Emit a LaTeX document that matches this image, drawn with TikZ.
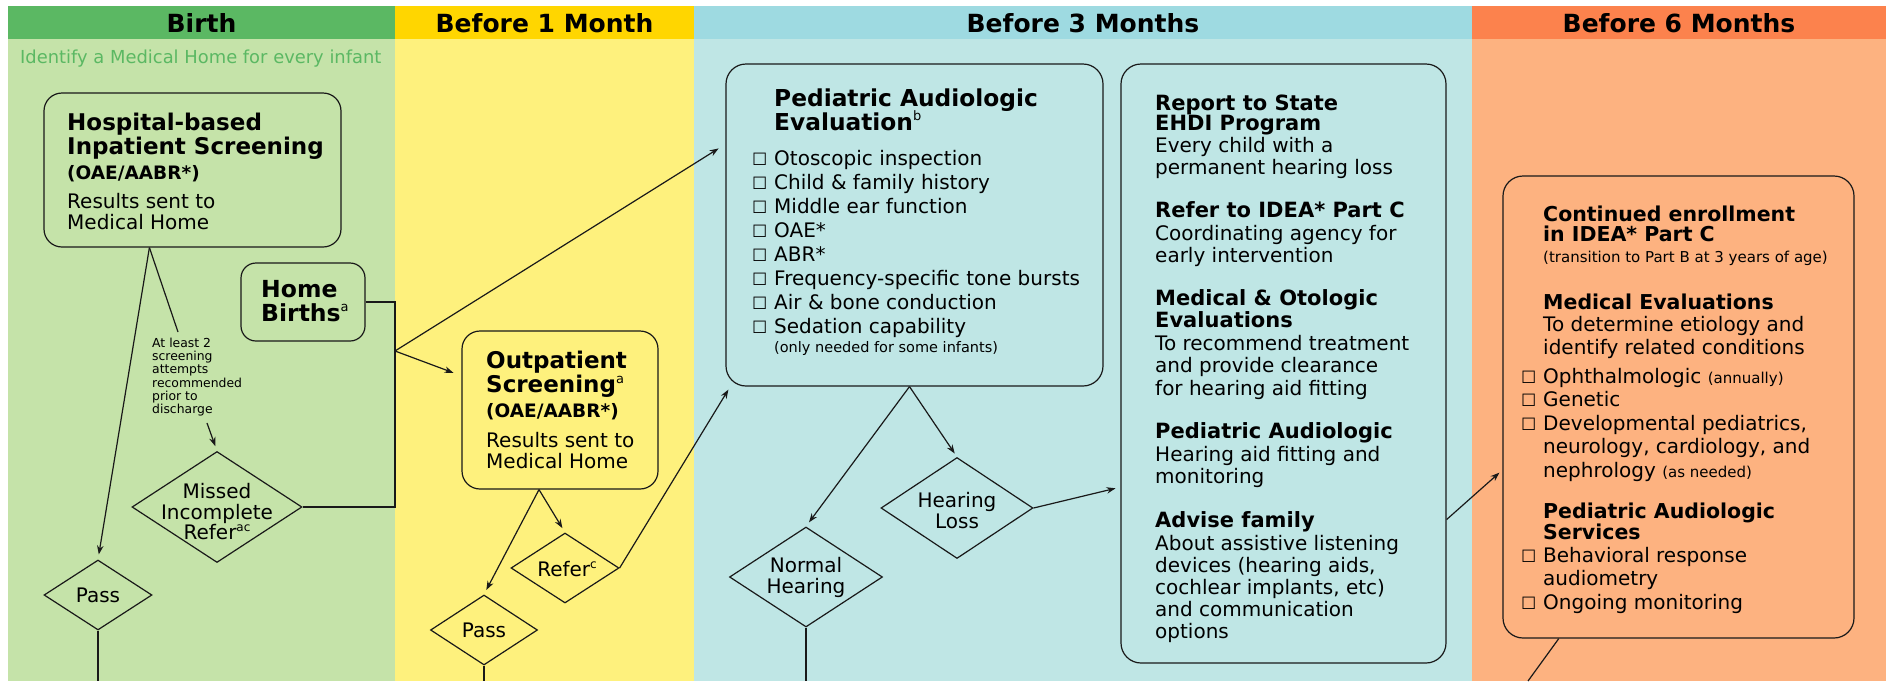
\documentclass[tikz,border=0pt]{standalone}
\usepackage{fontspec}
\setmainfont{DejaVu Sans}
\usetikzlibrary{shapes.geometric,arrows.meta,calc}
\definecolor{gH}{RGB}{91,184,99}
\definecolor{gB}{RGB}{197,227,169}
\definecolor{yH}{RGB}{255,214,0}
\definecolor{yB}{RGB}{254,241,125}
\definecolor{bH}{RGB}{158,218,225}
\definecolor{bB}{RGB}{191,230,229}
\definecolor{oH}{RGB}{252,130,77}
\definecolor{oB}{RGB}{253,178,128}
\definecolor{ink}{RGB}{25,25,25}
\lineskiplimit=-100pt
\newcommand\fsz[2]{\fontsize{#1pt}{#2pt}\selectfont}
\newcommand\st[1]{\rule{0pt}{#1pt}}
\newcommand\cb{\llap{\makebox[22pt][l]{\fontsize{17pt}{17pt}\selectfont ☐}}}
\newcommand\supr[2][13]{\raisebox{0.4em}{\mdseries\fontsize{#1pt}{#1pt}\selectfont #2}}
\tikzset{
  box/.style={draw=ink, line width=1.2pt, rectangle, rounded corners=18pt, inner sep=0pt},
  dia/.style={draw=ink, line width=1.2pt, diamond, inner sep=0pt},
  txt/.style={anchor=north west, inner sep=0pt, align=left, text=black},
  ctr/.style={inner sep=0pt, align=center, text=black},
  conn/.style={draw=ink, line width=1.2pt},
  arr/.style={conn, -{Stealth[length=9pt,width=6.5pt]}},
  hdr/.style={anchor=base, inner sep=0pt, font=\bfseries\fsz{25}{25}},
}
\begin{document}
\begin{tikzpicture}[x=1pt,y=-1pt]
\useasboundingbox (0,0) rectangle (1891,681);
\fill[white] (0,0) rectangle (1891,681);
% column backgrounds
\fill[gH] (8,6) rectangle (395,39);
\fill[gB] (8,39) rectangle (395,681);
\fill[yH] (395,6) rectangle (694,39);
\fill[yB] (395,39) rectangle (694,681);
\fill[bH] (694,6) rectangle (1472,39);
\fill[bB] (694,39) rectangle (1472,681);
\fill[oH] (1472,6) rectangle (1886,39);
\fill[oB] (1472,39) rectangle (1886,681);
% headers
\node[hdr] (h1) at (201.5,32) {Birth};
\node[hdr] (h2) at (544.5,32) {Before 1 Month};
\node[hdr] (h3) at (1083,32) {Before 3 Months};
\node[hdr] (h4) at (1679,32) {Before 6 Months};
\node[anchor=base west, inner sep=0pt, font=\fsz{17.9}{18}, text=gH] (ident) at (20,63) {Identify a Medical Home for every infant};

% Hospital box
\node[box, minimum width=297pt, minimum height=154pt] (hosp) at (192.5,170) {};
\node[txt, font=\bfseries\fsz{23}{24}] (hospT) at (67,107) {\st{23}Hospital-based\\Inpatient Screening};
\node[txt, font=\bfseries\fsz{18.5}{20}] (hospC) at (67,160.5) {\st{18.5}(OAE/AABR*)};
\node[txt, font=\fsz{20}{21.5}] (hospR) at (67,188) {\st{20}Results sent to\\Medical Home};

% Home births
\node[box, rounded corners=15pt, minimum width=124pt, minimum height=78pt] (home) at (303,302) {};
\node[txt, font=\bfseries\fsz{23.5}{24}] (homeT) at (261,273.5) {\st{23.5}Home\\Births\supr{a}};

% note
\node[txt, font=\fsz{12.4}{13.3}] (note) at (152,334.6) {\st{12.4}At least 2\\screening\\attempts\\recommended\\prior to\\discharge};

% diamonds birth
\node[dia, minimum width=170pt, minimum height=111pt] (miss) at (217,507) {};
\node[ctr, font=\fsz{20}{20.5}] (missT) at (217,512) {Missed\\Incomplete\\Refer\supr[12]{ac}};
\node[dia, minimum width=108pt, minimum height=70pt] (pass1) at (98,595) {};
\node[ctr, font=\fsz{20}{20}] (pass1T) at (98,595) {Pass};

% Outpatient
\node[box, minimum width=196pt, minimum height=158pt] (out) at (560,410) {};
\node[txt, font=\bfseries\fsz{23}{24}] (outT) at (486,345) {\st{23}Outpatient\\Screening\supr{a}};
\node[txt, font=\bfseries\fsz{18.5}{20}] (outC) at (486,398.5) {\st{18.5}(OAE/AABR*)};
\node[txt, font=\fsz{20}{21}] (outR) at (486,427) {\st{20}Results sent to\\Medical Home};
\node[dia, minimum width=108pt, minimum height=70pt] (refer) at (565,568) {};
\node[ctr, font=\fsz{20}{20}] (referT) at (567,569) {Refer\supr[12]{c}};
\node[dia, minimum width=107pt, minimum height=70pt] (pass2) at (484,630) {};
\node[ctr, font=\fsz{20}{20}] (pass2T) at (484,630) {Pass};

% PAE
\node[box, rounded corners=20pt, minimum width=377pt, minimum height=322pt] (pae) at (914.5,225) {};
\node[txt, font=\bfseries\fsz{23.3}{24}] (paeT) at (774,82.7) {\st{23.3}Pediatric Audiologic\\Evaluation\supr{b}};
\node[txt, font=\fsz{20}{24}] (paeL) at (774,145) {\st{20}\cb Otoscopic inspection\\\cb Child \& family history\\\cb Middle ear function\\\cb OAE*\\\cb ABR*\\\cb Frequency-specific tone bursts\\\cb Air \& bone conduction\\\cb Sedation capability};
\node[txt, font=\fsz{14.5}{15}] (paeS) at (774,337.5) {\st{14.5}(only needed for some infants)};
\node[dia, minimum width=152pt, minimum height=101pt] (loss) at (957,508) {};
\node[ctr, font=\fsz{20}{21}] (lossT) at (957,511) {Hearing\\Loss};
\node[dia, minimum width=153pt, minimum height=100pt] (normal) at (806,577) {};
\node[ctr, font=\fsz{20}{21}] (normalT) at (806,577) {Normal\\Hearing};

% right blue box
\node[box, rounded corners=20pt, minimum width=325pt, minimum height=599pt] (rb) at (1283.5,363.5) {};
\node[txt, font=\bfseries\fsz{21}{20}] (rbH1) at (1155,89) {\st{21}Report to State\\EHDI Program};
\node[txt, font=\fsz{20}{22}] (rbB1) at (1155,132) {\st{20}Every child with a\\permanent hearing loss};
\node[txt, font=\bfseries\fsz{21}{20}] (rbH2) at (1155,196) {\st{21}Refer to IDEA* Part C};
\node[txt, font=\fsz{20}{22}] (rbB2) at (1155,220) {\st{20}Coordinating agency for\\early intervention};
\node[txt, font=\bfseries\fsz{21}{22}] (rbH3) at (1155,284) {\st{21}Medical \& Otologic\\Evaluations};
\node[txt, font=\fsz{20}{22.5}] (rbB3) at (1155,330) {\st{20}To recommend treatment\\and provide clearance\\for hearing aid fitting};
\node[txt, font=\bfseries\fsz{21}{20}] (rbH4) at (1155,417) {\st{21}Pediatric Audiologic};
\node[txt, font=\fsz{20}{22}] (rbB4) at (1155,441) {\st{20}Hearing aid fitting and\\monitoring};
\node[txt, font=\bfseries\fsz{21}{20}] (rbH5) at (1155,506) {\st{21}Advise family};
\node[txt, font=\fsz{20}{22}] (rbB5) at (1155,530) {\st{20}About assistive listening\\devices (hearing aids,\\cochlear implants, etc)\\and communication\\options};

% orange box
\node[box, rounded corners=20pt, minimum width=351pt, minimum height=462pt] (ob) at (1678.5,407) {};
\node[txt, font=\bfseries\fsz{20.5}{20}] (obH1) at (1543,200.5) {\st{20.5}Continued enrollment\\in IDEA* Part C};
\node[txt, font=\fsz{15}{15}] (obS1) at (1543,247) {\st{15}(transition to Part B at 3 years of age)};
\node[txt, font=\bfseries\fsz{20.5}{20}] (obH2) at (1543,288.5) {\st{20.5}Medical Evaluations};
\node[txt, font=\fsz{20}{23}] (obB2) at (1543,311) {\st{20}To determine etiology and\\identify related conditions};
\node[txt, font=\fsz{20}{23.5}] (obL2) at (1543,363) {\st{20}\cb Ophthalmologic {\fontsize{15pt}{23.5pt}\selectfont (annually)}\\\cb Genetic\\\cb Developmental pediatrics,\\neurology, cardiology, and\\nephrology {\fontsize{15pt}{23.5pt}\selectfont (as needed)}};
\node[txt, font=\bfseries\fsz{20.5}{21}] (obH3) at (1543,497.5) {\st{20.5}Pediatric Audiologic\\Services};
\node[txt, font=\fsz{20}{23.5}] (obL3) at (1543,542) {\st{20}\cb Behavioral response\\audiometry\\\cb Ongoing monitoring};

% coordinates
\coordinate (bx) at (395,0);
\coordinate (jn) at (395,351);
\coordinate (hb) at ([xshift=106pt]hosp.south west);
\coordinate (obt) at ([xshift=-21pt]out.south);
\coordinate (pb) at ([xshift=-5pt]pae.south);
\coordinate (paeC) at ([xshift=3pt,yshift=-3pt]pae.south west);
\coordinate (e1) at (98,681);
\coordinate (e2) at (484,681);
\coordinate (e3) at (806,681);
\coordinate (e4) at (1528,681);

% connectors
\draw[conn] (hb) -- ([xshift=26pt,yshift=2.6pt]note.north west);
\draw[arr, shorten >=5pt] (hb) -- (pass1.north);
\draw[arr, shorten >=5pt] ([xshift=55pt,yshift=-6.5pt]note.south west) -- (miss.north);
\draw[conn] (home.east) -- (home.east -| bx) -- (miss.east -| bx) -- (miss.east);
\draw[arr, shorten >=8pt] (jn) -- ($(pae.north west)!0.25!(pae.south west)$);
\draw[arr, shorten >=8.5pt] (jn) -- ($(out.north west)!0.285!(out.south west)$);
\draw[arr, shorten >=5pt] (obt) -- (refer.north);
\draw[arr, shorten >=5pt] (obt) -- (pass2.north);
\draw[arr] (refer.east) -- (paeC);
\draw[arr, shorten >=5pt] (pb) -- (normal.north);
\draw[arr, shorten >=4pt] (pb) -- (loss.north);
\draw[arr, shorten >=5pt] (loss.east) -- ($(rb.north west)!0.706!(rb.south west)$);
\draw[arr, shorten >=4pt] ($(rb.north east)!0.76!(rb.south east)$) -- ($(ob.north west)!0.636!(ob.south west)$);
\draw[conn] ($(ob.south west)!0.16!(ob.south east)$) -- (e4);
\draw[conn] (pass1.south) -- (e1);
\draw[conn] (pass2.south) -- (e2);
\draw[conn] (normal.south) -- (e3);
\end{tikzpicture}
\end{document}
